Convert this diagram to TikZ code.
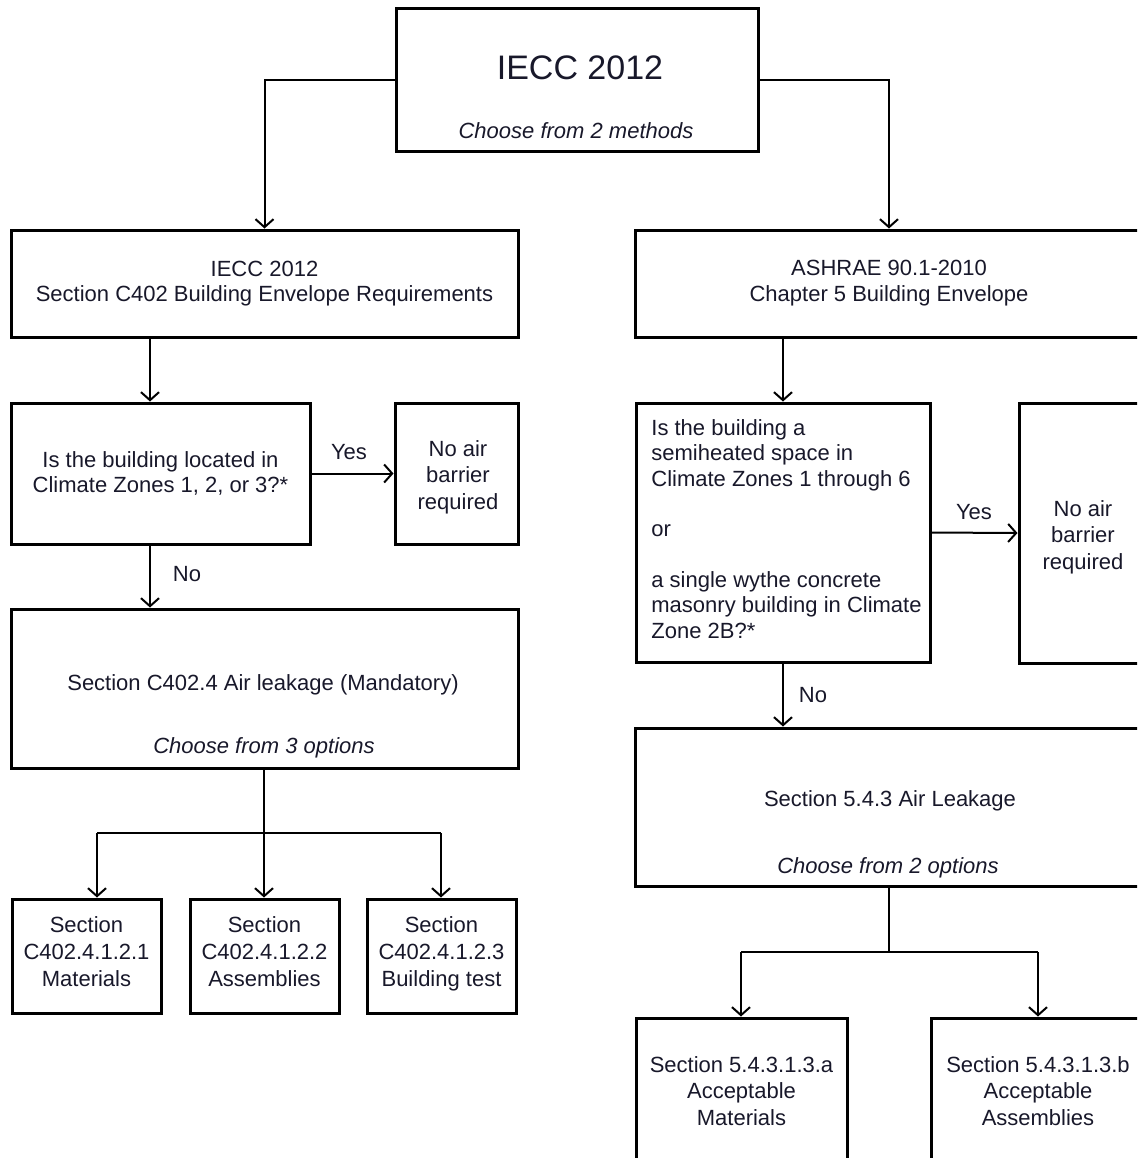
\documentclass[tikz,border=0pt]{standalone}
\usepackage{fontspec}
\setmainfont{Liberation Sans}
\usetikzlibrary{arrows.meta,calc}
\definecolor{txt}{HTML}{18182A}
\begin{document}
\begin{tikzpicture}[x=0.5pt,y=-0.5pt,
  box/.style={draw, line width=1.5pt, rectangle, inner sep=0pt, text=txt, align=center,
              font=\fontsize{11}{13}\selectfont},
  conn/.style={line width=1pt, -{Straight Barb[length=4pt,width=9pt,line width=1pt]}},
  plainline/.style={line width=1pt},
  lbl/.style={text=txt, font=\fontsize{11}{13}\selectfont, inner sep=0pt},
  ital/.style={text=txt, font=\fontsize{11}{13}\selectfont\itshape, inner sep=0pt}]
\useasboundingbox (0,0) rectangle (1137,1158);
\clip (0,0) rectangle (1137,1158);

% top
\node[box, minimum width=181pt, minimum height=71.5pt] (top) at (577,79.5) {};
\node[lbl, font=\fontsize{17}{20}\selectfont] (topt) at (580,68) {IECC 2012};
\node[ital] (topi) at (576,131) {Choose from 2 methods};

% left branch
\node[box, minimum width=253.5pt, minimum height=53.5pt, font=\fontsize{11}{12.5}\selectfont] (A) at (264.5,283.5)
  {IECC 2012\\ Section C402 Building Envelope Requirements};
\node[box, minimum width=149.5pt, minimum height=70.5pt, font=\fontsize{11}{12.5}\selectfont] (Q1) at (160.5,473.5)
  {Is the building located in\\ Climate Zones 1, 2, or 3?*};
\node[box, minimum width=61.5pt, minimum height=70.5pt] (N1) at (456.5,473.5) {};
\node[lbl, align=center, font=\fontsize{11}{13.2}\selectfont] (N1t) at (458,477)
  {No air\\ barrier\\ required};
\node[box, minimum width=253.5pt, minimum height=79.5pt] (C) at (264.5,688.5) {};
\node[lbl] (Ct) at (263,685) {Section C402.4 Air leakage (Mandatory)};
\node[ital] (Ci) at (264,748) {Choose from 3 options};
\node[box, minimum width=74.5pt, minimum height=57pt, font=\fontsize{11}{13.5}\selectfont] (D1) at (86.5,956)
  {Section\\ C402.4.1.2.1\\ Materials\strut};
\node[box, minimum width=74.5pt, minimum height=57pt, font=\fontsize{11}{13.5}\selectfont] (D2) at (264.5,956)
  {Section\\ C402.4.1.2.2\\ Assemblies\strut};
\node[box, minimum width=74.5pt, minimum height=57pt, font=\fontsize{11}{13.5}\selectfont] (D3) at (441.5,956)
  {Section\\ C402.4.1.2.3\\ Building test\strut};

% right branch
\node[box, minimum width=254pt, minimum height=53.5pt, font=\fontsize{11}{13}\selectfont] (B) at (889,283.5)
  {ASHRAE 90.1-2010\\ Chapter 5 Building Envelope};
\node[box, minimum width=147pt, minimum height=129.5pt] (Q2) at (783,532.5) {};
\node[lbl, anchor=west, align=left, font=\fontsize{11}{12.65}\selectfont] (Q2t) at (651,529)
  {Is the building a\\ semiheated space in\\ Climate Zones 1 through 6\\[12.65pt] or\\[12.65pt]
   a single wythe concrete\\ masonry building in Climate\\ Zone 2B?*};
\node[box, minimum width=64pt, minimum height=130pt] (N2) at (1083,533) {};
\node[lbl, align=center, font=\fontsize{11}{13.2}\selectfont] (N2t) at (1083,537)
  {No air\\ barrier\\ required};
\node[box, minimum width=255pt, minimum height=79pt] (E) at (890,807) {};
\node[lbl] (Et) at (890,801) {Section 5.4.3 Air Leakage};
\node[ital] (Ei) at (888,868) {Choose from 2 options};
\node[box, minimum width=105.5pt, minimum height=73pt, font=\fontsize{11}{13.2}\selectfont] (F1) at (741.5,1091)
  {Section 5.4.3.1.3.a\\ Acceptable\\ Materials};
\node[box, minimum width=107pt, minimum height=73pt, font=\fontsize{11}{13.2}\selectfont] (F2) at (1038,1091)
  {Section 5.4.3.1.3.b\\ Acceptable\\ Assemblies};

% labels
\node[lbl] (yes1) at (349,452) {Yes};
\node[lbl] (no1) at (187,574) {No};
\node[lbl] (yes2) at (974,512) {Yes};
\node[lbl] (no2) at (813,695) {No};

% connectors
\draw[conn] (top.west) -| (A.north);
\draw[conn] (top.east) -| (B.north);
\coordinate (q1x) at (150,0);
\draw[conn] (A.south -| q1x) -- (Q1.north -| q1x);
\draw[conn] (Q1.east) -- (N1.west);
\draw[conn] (Q1.south -| q1x) -- (C.north -| q1x);
\coordinate (cbar) at (264,833);
\coordinate (d1x) at (97,833);
\coordinate (d3x) at (441,833);
\draw[plainline] (C.south -| cbar) -- (cbar);
\draw[plainline] (d1x) -- (d3x);
\draw[conn] (d1x) -- (D1.north -| d1x);
\draw[conn] (cbar) -- (D2.north -| cbar);
\draw[conn] (d3x) -- (D3.north -| d3x);

\draw[conn] (B.south -| Q2.north) -- (Q2.north);
\draw[conn] (Q2.east) -- (N2.west);
\draw[conn] (Q2.south) -- (E.north -| Q2.south);
\coordinate (ebar) at (889,952);
\coordinate (f1x) at (741,952);
\coordinate (f2x) at (1038,952);
\draw[plainline] (E.south -| ebar) -- (ebar);
\draw[plainline] (f1x) -- (f2x);
\draw[conn] (f1x) -- (F1.north -| f1x);
\draw[conn] (f2x) -- (F2.north -| f2x);
\end{tikzpicture}
\end{document}
